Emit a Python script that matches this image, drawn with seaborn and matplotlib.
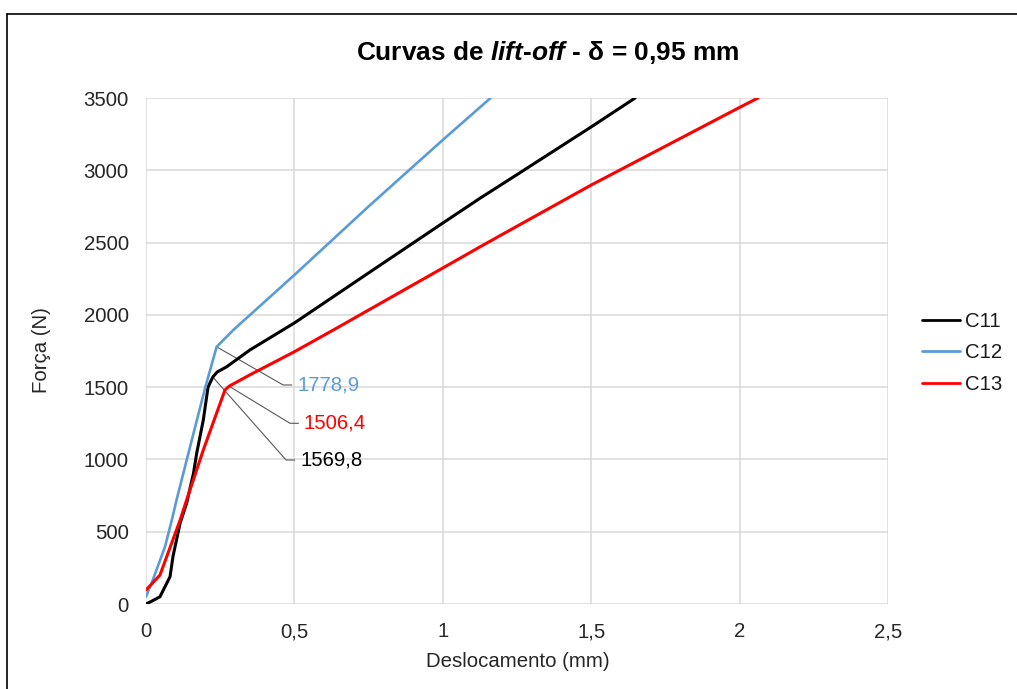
import matplotlib
matplotlib.use("Agg")
import matplotlib.pyplot as plt
from matplotlib.lines import Line2D
import numpy as np
import pandas as pd
import seaborn as sns

# Force x displacement curves for three specimens
c11_x = [0, 0.015, 0.047, 0.081, 0.091, 0.115, 0.137, 0.16, 0.171, 0.193, 0.209,
         0.225, 0.24, 0.272, 0.35, 0.5, 0.75, 1.0, 1.125, 1.25, 1.5, 1.648]
c11_y = [0, 15, 50, 189, 330, 560, 698, 904, 1045, 1272, 1500,
         1569.8, 1605, 1641, 1757, 1944, 2290, 2635, 2806, 2970, 3300, 3500]

c12_x = [0, 0.02, 0.064, 0.087, 0.103, 0.15, 0.2, 0.238, 0.294, 0.5, 0.75, 1.0, 1.161]
c12_y = [50, 150, 396, 581, 720, 1100, 1500, 1778.9, 1895, 2276, 2750, 3210, 3500]

c13_x = [0, 0.047, 0.115, 0.137, 0.193, 0.266, 0.28, 0.35, 0.5, 0.631,
         1.0, 1.125, 1.193, 1.5, 2.0, 2.062]
c13_y = [97, 200, 581, 720, 1065, 1480, 1506.4, 1585, 1745, 1895,
         2324, 2470, 2548, 2898, 3435, 3500]

series_names = ["C11", "C12", "C13"]
series_colors = ["#000000", "#5b9bd5", "#ff0000"]

# peak labels: (series, x, y, text)
peak_labels = [("C12", 0.238, 1778.9, "1778,9"),
               ("C13", 0.28, 1506.4, "1506,4"),
               ("C11", 0.225, 1569.8, "1569,8")]
# label anchor positions (x, y) in data units
label_pos = {"C12": (0.509, 1515), "C13": (0.532, 1250), "C11": (0.519, 996)}

x_ticks = [0, 0.5, 1, 1.5, 2, 2.5]
x_tick_labels = ["0", "0,5", "1", "1,5", "2", "2,5"]
y_ticks = [0, 500, 1000, 1500, 2000, 2500, 3000, 3500]

frames = []
for name, xs, ys in [("C11", c11_x, c11_y), ("C12", c12_x, c12_y), ("C13", c13_x, c13_y)]:
    frames.append(pd.DataFrame({"Deslocamento": xs, "Forca": ys, "Série": name}))
df = pd.concat(frames, ignore_index=True)

sns.set_theme(style="white")
plt.rcParams["font.family"] = ["Liberation Sans", "DejaVu Sans"]
plt.rcParams["mathtext.fontset"] = "custom"
plt.rcParams["mathtext.bfit"] = "Liberation Sans:italic:bold"
plt.rcParams["mathtext.rm"] = "Liberation Sans"

FS = 14.7
TXT = "#262626"

W, H = 1017, 689
fig = plt.figure(figsize=(W / 100, H / 100), dpi=100)
fig.patch.set_facecolor("white")
ax = fig.add_axes([146 / W, 1 - 604 / H, (888 - 146) / W, (604 - 98) / H])

palette = dict(zip(series_names, series_colors))
sns.lineplot(data=df, x="Deslocamento", y="Forca", hue="Série", hue_order=series_names,
             palette=palette, sort=False, estimator=None, units="Série",
             linewidth=2.2, ax=ax, legend=True)
for line in ax.get_lines():
    if line.get_color() == "#5b9bd5":
        line.set_linewidth(1.9)

ax.set_xlim(0, 2.5)
ax.set_ylim(0, 3500)
ax.set_xticks(x_ticks)
ax.set_xticklabels(x_tick_labels)
ax.set_yticks(y_ticks)
ax.set_yticklabels([str(v) for v in y_ticks])
ax.grid(True, color="#d9d9d9", linewidth=1.1)
ax.set_axisbelow(True)
for s in ax.spines.values():
    s.set_visible(False)
ax.tick_params(axis="both", length=0, labelsize=FS, labelcolor=TXT)
ax.tick_params(axis="x", pad=13)
ax.tick_params(axis="y", pad=12.5)

ax.set_xlabel("Deslocamento (mm)", fontsize=FS, color=TXT)
ax.set_ylabel("Força (N)", fontsize=FS, color=TXT)
ax.xaxis.set_label_coords((518 - 146) / 742, -0.094)
ax.yaxis.set_label_coords(-0.128, (604 - 350) / 506)

# peak annotations with leader lines
for name, px, py, txt in peak_labels:
    lx, ly = label_pos[name]
    ax.plot([px, lx - 0.047, lx - 0.018], [py, ly, ly], color="#595959",
            linewidth=0.8, zorder=1)
    ax.text(lx, ly, txt, fontsize=FS, color=palette[name], ha="left", va="center")

leg = ax.legend(loc="center left", bbox_to_anchor=(904 / W, 1 - 353 / H),
                bbox_transform=fig.transFigure, frameon=False, fontsize=FS,
                handlelength=1.85, handletextpad=0.25, labelspacing=0.62, title=None)
for h in leg.get_lines():
    h.set_linewidth(2.0)
for t in leg.get_texts():
    t.set_color("#1a1a1a")

fig.text(548 / W, 1 - 52 / H,
         r"Curvas de $\mathbfit{lift}$-$\mathbfit{off}$ - δ = 0,95 mm",
         ha="center", va="center", fontsize=18.9, fontweight="bold", color="#000000")

# outer frame of the chart area
fig.add_artist(Line2D([7 / W, 7 / W], [0, 1 - 14 / H], transform=fig.transFigure,
                      color="#000000", linewidth=1.2))
fig.add_artist(Line2D([7 / W, 1], [1 - 14 / H, 1 - 14 / H], transform=fig.transFigure,
                      color="#000000", linewidth=1.2))

fig.savefig("out.png", dpi=100, facecolor="white")
